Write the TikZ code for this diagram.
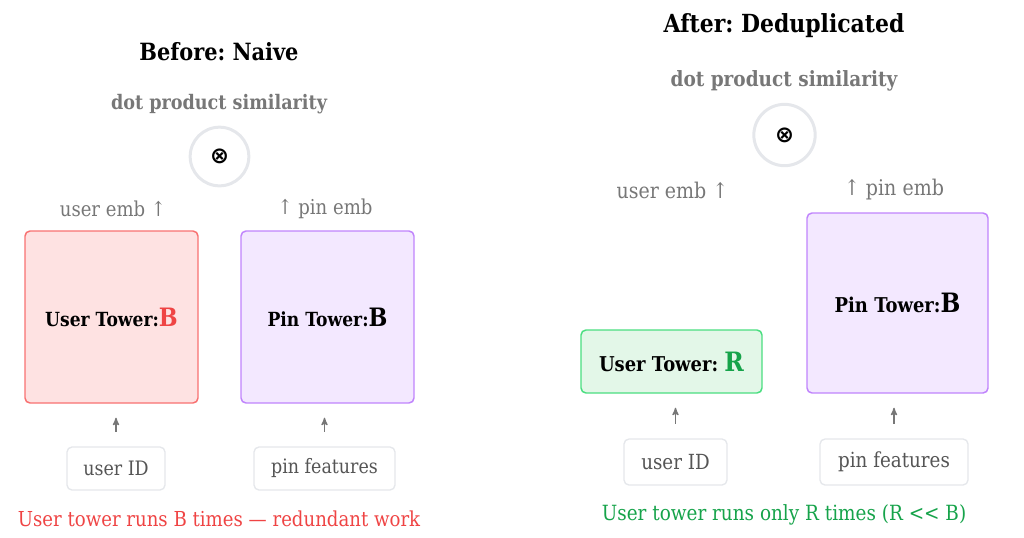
\documentclass[tikz,border=0pt]{standalone}
\usepackage{fontspec}
\setmainfont{DejaVu Serif}[FakeStretch=0.88]
\newfontfamily\symfont{DejaVu Sans}
\usepackage{xcolor}
\usetikzlibrary{arrows}
\frenchspacing

\definecolor{redline}{HTML}{F87171}
\definecolor{redfill}{HTML}{FEE2E2}
\definecolor{redtext}{HTML}{EF4444}
\definecolor{purpleline}{HTML}{C084FC}
\definecolor{purplefill}{HTML}{F3E8FF}
\definecolor{greenline}{HTML}{4ADE80}
\definecolor{greenfill}{HTML}{E3F7E8}
\definecolor{greentext}{HTML}{16A34A}
\definecolor{softgray}{HTML}{777777}
\definecolor{boxgray}{HTML}{E5E7EB}
\definecolor{inputtext}{HTML}{555555}

\newcommand{\fs}[1]{\fontsize{#1}{1.2\dimexpr#1pt\relax}\selectfont}

\begin{document}
\begin{tikzpicture}[x=0.75pt,y=-0.75pt,>=stealth',semithick]
    \tikzstyle{tower}=[draw, rounded corners=3.75pt, line width=1.1pt, font=\bfseries]
    \tikzstyle{input}=[draw=boxgray, fill=white, rounded corners=3.75pt, line width=1pt, text=inputtext]
    \tikzstyle{sim}=[circle, draw=boxgray, line width=2.25pt, font=\symfont\bfseries\fs{17}]
    \tikzstyle{title}=[font=\bfseries]
    \tikzstyle{simlabel}=[text=softgray, font=\bfseries]
    \tikzstyle{emb}=[text=softgray]
    \tikzstyle{feed}=[->, draw=softgray, line width=1pt, shorten >=10.5pt, shorten <=11pt]
    \useasboundingbox (0,0) rectangle (1024,537);

    % before: naive
    \node[title] (titleA) at (219, 52) {\fs{17.8}Before: Naive};
    \node[simlabel] (dotA) at (219, 104) {\fs{15}dot product similarity};
    \node[sim, minimum size=44pt] (simA) at (219.5, 156.5) {⊗};
    \node[emb] (uembA) at (113, 209) {\fs{15.4}user emb ↑};
    \node[emb] (pembA) at (325, 209) {\fs{15.4}↑ pin emb};
    \node[tower, draw=redline, fill=redfill, minimum width=129.75pt, minimum height=129pt] (utowerA) at (111.5, 317)
        {\fs{14.6}User Tower:\textcolor{redtext}{\fs{19}B}};
    \node[tower, draw=purpleline, fill=purplefill, minimum width=129.75pt, minimum height=129pt] (ptowerA) at (327.5, 317)
        {\fs{14.6}Pin Tower:{\fs{19}B}};
    \node[input, minimum width=73.5pt, minimum height=32.25pt] (uidA) at (116, 468.5) {\fs{14.9}user ID};
    \node[input, minimum width=105.75pt, minimum height=32.25pt] (pinfA) at (324.5, 468.5) {\fs{14.9}pin features};
    \draw[feed] (uidA.north) -- (uidA.north |- utowerA.south);
    \draw[feed] (pinfA.north) -- (pinfA.north |- ptowerA.south);
    \node[text=redtext] (noteA) at (219, 519) {\fs{15.45}User tower runs B times — redundant work};

    % after: deduplicated
    \node[title] (titleB) at (784, 26) {\fs{18.7}After: Deduplicated};
    \node[simlabel] (dotB) at (784, 81) {\fs{15.75}dot product similarity};
    \node[sim, minimum size=46pt] (simB) at (784.5, 135) {⊗};
    \node[emb] (uembB) at (672.5, 190) {\fs{16.2}user emb ↑};
    \node[emb] (pembB) at (894, 190) {\fs{16.2}↑ pin emb};
    \node[tower, draw=purpleline, fill=purplefill, minimum width=135.75pt, minimum height=135pt] (ptowerB) at (897.5, 303)
        {\fs{15.3}Pin Tower:{\fs{20}B}};
    \node[tower, draw=greenline, fill=greenfill, minimum width=135.75pt, minimum height=47.25pt] (utowerB) at (671.5, 361.5)
        {\fs{15.3}User Tower: \textcolor{greentext}{\fs{20}R}};
    \node[input, minimum width=77.25pt, minimum height=34.5pt] (uidB) at (675.5, 462) {\fs{15.6}user ID};
    \node[input, minimum width=111pt, minimum height=34.5pt] (pinfB) at (894, 462) {\fs{15.6}pin features};
    \draw[feed] (uidB.north) -- (uidB.north |- utowerB.south);
    \draw[feed] (pinfB.north) -- (pinfB.north |- ptowerB.south);
    \node[text=greentext] (noteB) at (784, 515) {\fs{15.7}User tower runs only R times (R {<}{<} B)};
\end{tikzpicture}
\end{document}
